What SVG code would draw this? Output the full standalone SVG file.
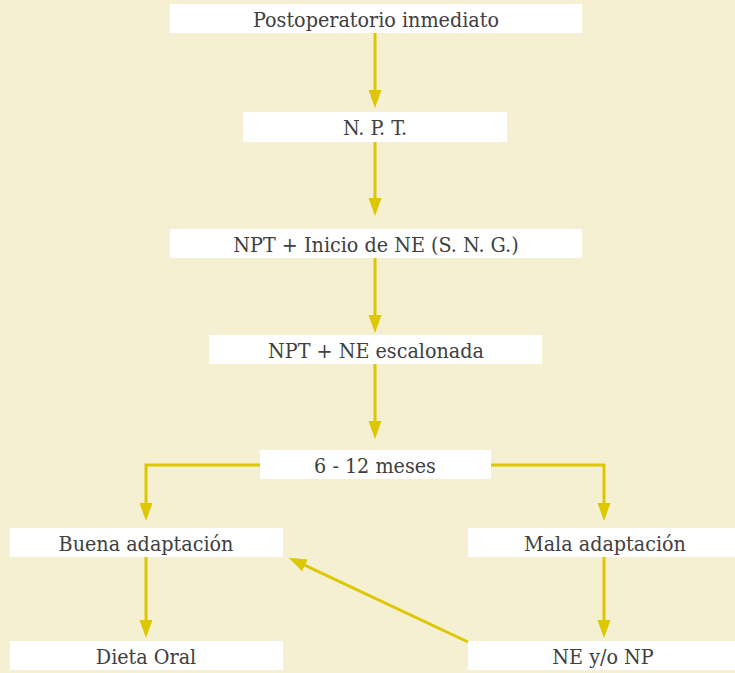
<svg xmlns="http://www.w3.org/2000/svg" width="735" height="673" viewBox="0 0 735 673">
  <defs>
    <style>
      .box { fill: #ffffff; }
      .lbl { font-family: "DejaVu Serif Condensed", "DejaVu Serif", "Liberation Serif", serif; font-stretch: condensed; font-size: 21.3px; fill: #404040; text-anchor: middle; }
      .wire { fill: none; stroke: #dcc700; stroke-width: 3; }
    </style>
    <marker id="head" markerUnits="userSpaceOnUse" markerWidth="18" markerHeight="14" refX="11" refY="7" orient="auto">
      <path d="M0,0.5 L18,7 L0,13.5 z" fill="#dcc700"/>
    </marker>
  </defs>

  <rect width="735" height="673" fill="#f6f0d2"/>

  <!-- connectors -->
  <g id="connectors">
    <line class="wire" x1="375" y1="33" x2="375" y2="101" marker-end="url(#head)"/>
    <line class="wire" x1="375" y1="142" x2="375" y2="209" marker-end="url(#head)"/>
    <line class="wire" x1="375" y1="258" x2="375" y2="326" marker-end="url(#head)"/>
    <line class="wire" x1="375" y1="364" x2="375" y2="432" marker-end="url(#head)"/>
    <path class="wire" d="M260,465 H146 V514" marker-end="url(#head)"/>
    <path class="wire" d="M491,465 H604 V514" marker-end="url(#head)"/>
    <line class="wire" x1="146" y1="557" x2="146" y2="631" marker-end="url(#head)"/>
    <line class="wire" x1="604" y1="557" x2="604" y2="631" marker-end="url(#head)"/>
    <line class="wire" x1="468" y1="642" x2="295" y2="560.7" marker-end="url(#head)"/>
  </g>

  <g id="n-postop">
    <rect class="box" x="170" y="4" width="412" height="29"/>
    <text class="lbl" x="376" y="27">Postoperatorio inmediato</text>
  </g>
  <g id="n-npt">
    <rect class="box" x="243" y="112" width="264" height="30"/>
    <text class="lbl" x="375" y="135">N. P. T.</text>
  </g>
  <g id="n-npt-inicio">
    <rect class="box" x="170" y="229" width="412" height="29"/>
    <text class="lbl" x="376" y="252">NPT + Inicio de NE (S. N. G.)</text>
  </g>
  <g id="n-npt-escalonada">
    <rect class="box" x="209" y="335" width="333" height="29"/>
    <text class="lbl" x="376" y="358">NPT + NE escalonada</text>
  </g>
  <g id="n-meses">
    <rect class="box" x="260" y="450" width="231" height="29"/>
    <text class="lbl" x="375" y="473">6 - 12 meses</text>
  </g>
  <g id="n-buena">
    <rect class="box" x="10" y="528" width="273" height="29"/>
    <text class="lbl" x="146" y="551">Buena adaptación</text>
  </g>
  <g id="n-mala">
    <rect class="box" x="468" y="528" width="274" height="29"/>
    <text class="lbl" x="605" y="551">Mala adaptación</text>
  </g>
  <g id="n-dieta">
    <rect class="box" x="10" y="641" width="273" height="29"/>
    <text class="lbl" x="146" y="664">Dieta Oral</text>
  </g>
  <g id="n-ne-np">
    <rect class="box" x="468" y="641" width="274" height="29"/>
    <text class="lbl" x="603" y="664">NE y/o NP</text>
  </g>
</svg>
